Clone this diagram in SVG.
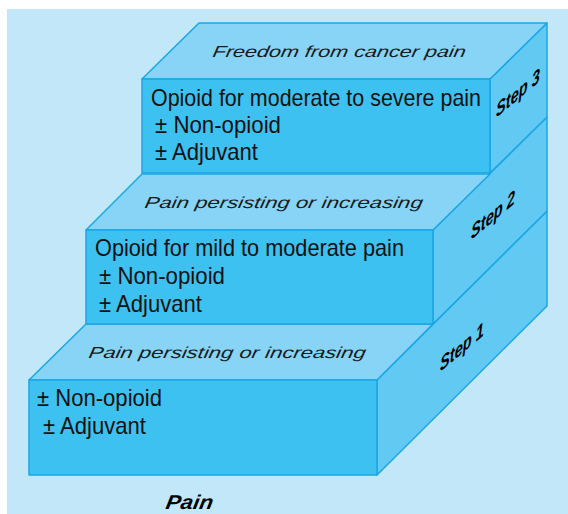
<svg xmlns="http://www.w3.org/2000/svg" width="568" height="514" viewBox="0 0 568 514">
  <style>
    .front { fill: #3dc1f1; stroke: #1aa6e6; stroke-width: 1.5; stroke-linejoin: round; }
    .top   { fill: #87d4f7; stroke: #1aa6e6; stroke-width: 1.5; stroke-linejoin: round; }
    .side  { fill: #62c9f3; stroke: #1aa6e6; stroke-width: 1.5; stroke-linejoin: round; }
    .body  { font-family: "Liberation Sans", Arial, sans-serif; font-size: 24px; fill: #111; }
    .note  { font-family: "Liberation Sans", Arial, sans-serif; font-size: 16px; font-style: italic; fill: #1a1a1a; }
    .step  { font-family: "Liberation Sans", Arial, sans-serif; font-size: 20px; font-style: italic; font-weight: bold; fill: #000; }
  </style>

  <!-- backdrop -->
  <rect x="7" y="9" width="561" height="505" fill="#c2e7f9"/>

  <!-- Step 1 block (deepest, three units of depth) -->
  <g id="step1">
    <polygon class="side" points="377,380 547,211 547,306 377,475"/>
    <polygon class="top" points="29,380 377,380 433,324 86,324"/>
    <rect class="front" x="29" y="380" width="348" height="95"/>
    <text class="note" transform="translate(88,358) skewX(-10)" textLength="277" lengthAdjust="spacingAndGlyphs">Pain persisting or increasing</text>
    <text class="body" x="37" y="406" textLength="125" lengthAdjust="spacingAndGlyphs">± Non-opioid</text>
    <text class="body" x="43" y="434" textLength="103" lengthAdjust="spacingAndGlyphs">± Adjuvant</text>
    <text class="step" transform="translate(440,372) skewY(-40)" textLength="44" lengthAdjust="spacingAndGlyphs">Step 1</text>
  </g>

  <!-- Step 2 block -->
  <g id="step2">
    <polygon class="side" points="433,230 547,117 547,211 433,324"/>
    <polygon class="top" points="86,230 433,230 490,174 142,174"/>
    <rect class="front" x="86" y="230" width="347" height="94"/>
    <text class="note" transform="translate(144,208) skewX(-10)" textLength="278" lengthAdjust="spacingAndGlyphs">Pain persisting or increasing</text>
    <text class="body" x="95" y="256" textLength="309" lengthAdjust="spacingAndGlyphs">Opioid for mild to moderate pain</text>
    <text class="body" x="99" y="284" textLength="126" lengthAdjust="spacingAndGlyphs">± Non-opioid</text>
    <text class="body" x="99" y="312" textLength="103" lengthAdjust="spacingAndGlyphs">± Adjuvant</text>
    <text class="step" transform="translate(471,240) skewY(-40)" textLength="44" lengthAdjust="spacingAndGlyphs">Step 2</text>
  </g>

  <!-- Step 3 block (top) -->
  <g id="step3">
    <polygon class="side" points="490,79 547,23 547,117 490,173"/>
    <polygon class="top" points="142,79 490,79 547,23 199,23"/>
    <rect class="front" x="142" y="79" width="348" height="94"/>
    <text class="note" transform="translate(212,57) skewX(-10)" textLength="253" lengthAdjust="spacingAndGlyphs">Freedom from cancer pain</text>
    <text class="body" x="151" y="106" textLength="330" lengthAdjust="spacingAndGlyphs">Opioid for moderate to severe pain</text>
    <text class="body" x="155" y="133" textLength="126" lengthAdjust="spacingAndGlyphs">± Non-opioid</text>
    <text class="body" x="155" y="160" textLength="103" lengthAdjust="spacingAndGlyphs">± Adjuvant</text>
    <text class="step" transform="translate(496,118) skewY(-40)" textLength="44" lengthAdjust="spacingAndGlyphs">Step 3</text>
  </g>

  <!-- base label -->
  <g id="pain">
    <text class="step" transform="translate(165,509) skewX(-10)" font-size="15" textLength="47" lengthAdjust="spacingAndGlyphs">Pain</text>
  </g>
</svg>
